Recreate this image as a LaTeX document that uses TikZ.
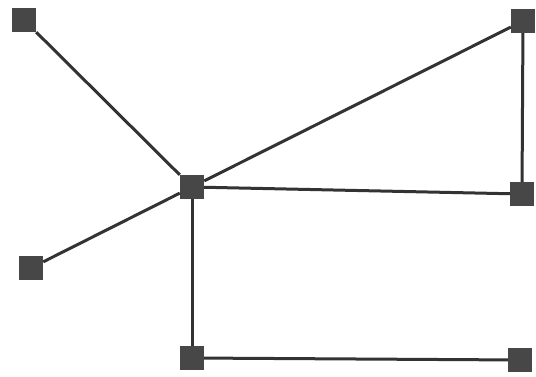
\documentclass[tikz,border=0pt]{standalone}
\usepackage{tikz}

\begin{document}
\begin{tikzpicture}[x=1pt, y=-1pt,
		vertex/.style={fill=black!72, minimum size=24pt, inner sep=0pt, rectangle},
		edge/.style={line width=3pt, draw=black!80}]
		
		% Frame
		\useasboundingbox (0,0) rectangle (536,377);
		
		% Vertices
		\node[vertex] (hub) at (192,187) {};
		\node[vertex] (tl) at (24,20) {};
		\node[vertex] (tr) at (523,21) {};
		\node[vertex] (mr) at (522,194) {};
		\node[vertex] (ml) at (31,268) {};
		\node[vertex] (bl) at (192,358) {};
		\node[vertex] (br) at (520,360) {};
		
		% Edges
		\draw[edge] (hub) -- (tl);
		\draw[edge] (hub) -- (tr);
		\draw[edge] (tr) -- (mr);
		\draw[edge] (hub) -- (mr);
		\draw[edge] (hub) -- (ml);
		\draw[edge] (hub) -- (bl);
		\draw[edge] (bl) -- (br);
		
	\end{tikzpicture}
\end{document}
